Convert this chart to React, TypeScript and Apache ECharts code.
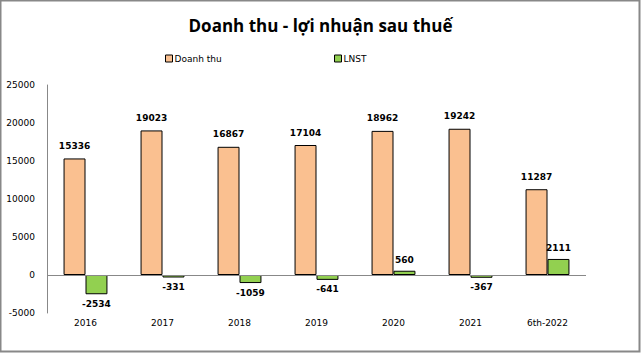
import React, { useEffect, useRef } from "react";
import * as echarts from "echarts";

const categories = ["2016", "2017", "2018", "2019", "2020", "2021", "6th-2022"];
const revenue = [15336, 19023, 16867, 17104, 18962, 19242, 11287];
const profit = [-2534, -331, -1059, -641, 560, -367, 2111];
const seriesNames = ["Doanh thu", "LNST"];
const titleText = "Doanh thu - lợi nhuận sau thuế";

export default function App() {
  const ref = useRef<HTMLDivElement>(null);
  useEffect(() => {
    const chart = echarts.init(ref.current!, null, { renderer: "svg" });
    const labelFont = { fontFamily: "DejaVu Sans", fontSize: 9, color: "#000" };
    const legendItem = {
      top: 49,
      itemWidth: 7,
      itemHeight: 7,
      icon: "rect",
      itemStyle: { borderColor: "#000", borderWidth: 1 },
      textStyle: { ...labelFont, padding: [0, 0, 0, -3] },
    };
    chart.setOption({
      animation: false,
      backgroundColor: "#fff",
      title: {
        text: titleText,
        left: "center",
        top: 12,
        textStyle: { fontFamily: "Open Sans", fontWeight: "bold", fontSize: 17, color: "#000" },
      },
      legend: [
        { ...legendItem, data: [seriesNames[0]], left: 160 },
        { ...legendItem, data: [seriesNames[1]], left: 329 },
      ],
      graphic: [
        {
          type: "rect",
          shape: { x: 0.5, y: 0.5, width: 639, height: 351 },
          style: { fill: "none", stroke: "#888", lineWidth: 2 },
          silent: true,
        },
      ],
      grid: { left: 47, right: 55, top: 85, bottom: 40 },
      xAxis: {
        type: "category",
        data: categories,
        axisLine: { show: false, onZero: false },
        axisTick: { show: false },
        axisLabel: { ...labelFont, margin: 5 },
      },
      yAxis: {
        type: "value",
        min: -5000,
        max: 25000,
        interval: 5000,
        axisLine: { show: true, lineStyle: { color: "#888" } },
        axisTick: { show: false },
        splitLine: { show: false },
        axisLabel: { ...labelFont, margin: 12, formatter: (v: number) => String(v) },
      },
      series: [
        {
          name: seriesNames[0],
          type: "bar",
          data: revenue,
          barGap: "0%",
          barCategoryGap: "43%",
          itemStyle: { color: "#FAC090", borderColor: "#000", borderWidth: 1 },
          label: { show: true, position: "top", distance: 8, ...labelFont, fontWeight: "bold" },
          markLine: {
            silent: true,
            symbol: "none",
            label: { show: false },
            lineStyle: { color: "#888", type: "solid", width: 1 },
            data: [{ yAxis: 0 }],
          },
        },
        {
          name: seriesNames[1],
          type: "bar",
          data: profit.map((v) => ({
            value: v,
            label: { position: v < 0 ? "bottom" : "top", distance: v < 0 ? 5 : 6 },
          })),
          itemStyle: { color: "#92D050", borderColor: "#000", borderWidth: 1 },
          label: { show: true, ...labelFont, fontWeight: "bold" },
        },
      ],
    });
    return () => chart.dispose();
  }, []);
  return (
    <div
      ref={ref}
      style={{ position: "fixed", left: 0, top: 0, width: 641, height: 353 }}
    />
  );
}
